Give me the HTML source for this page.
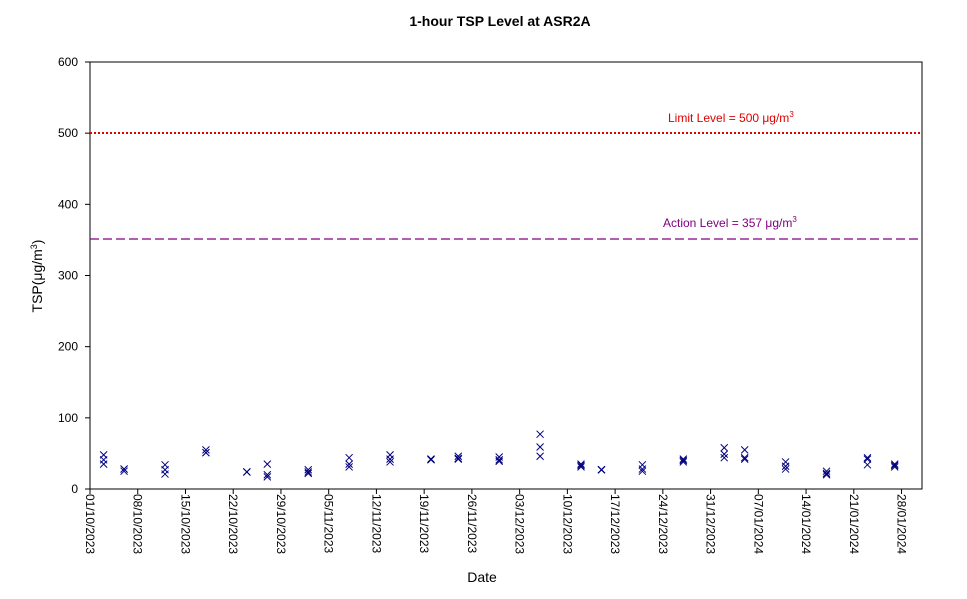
<!DOCTYPE html>
<html><head><meta charset="utf-8"><style>
body{margin:0;background:#fff;font-family:"Liberation Sans",Arial,sans-serif}
svg text{font-family:"Liberation Sans",Arial,sans-serif}
</style></head><body>
<svg id="chart" width="967" height="594" xmlns="http://www.w3.org/2000/svg">
<text x="500" y="26" text-anchor="middle" font-size="14" font-weight="bold">1-hour TSP Level at ASR2A</text>
<rect x="90" y="62" width="832" height="427" fill="none" stroke="#000" stroke-width="1"/>
<g id="yaxis"></g>
<g id="xaxis"></g>
<line x1="90" x2="922" y1="133" y2="133" stroke="#e00000" stroke-width="2" stroke-dasharray="2,2"/>
<text x="668" y="122" font-size="12" fill="#e00000">Limit Level  = 500 μg/m<tspan font-size="8" dy="-5">3</tspan></text>
<line x1="90" x2="922" y1="239" y2="239" stroke="#800080" stroke-width="1.2" stroke-dasharray="9,4"/>
<text x="663" y="227" font-size="12" fill="#800080">Action Level  = 357 μg/m<tspan font-size="8" dy="-5">3</tspan></text>
<g id="points"></g>
<text x="482" y="582" text-anchor="middle" font-size="14">Date</text>
<text transform="translate(42,276) rotate(-90)" text-anchor="middle" font-size="14">TSP(μg/m<tspan font-size="9" dy="-5">3</tspan><tspan dy="5">)</tspan></text>
</svg>
<script>
const dayOffsets=[2,5,11,17,23,26,32,38,44,50,54,60,66,72,75,81,87,93,96,102,108,114,118];
const values=[[48,41,35],[28,25,28],[34,27,21],[55,51,51],[24,24,24],[35,20,17],[27,22,24],[44,35,31],[48,42,38],[42,42,41],[46,42,43],[45,39,41],[77,59,46],[35,31,33],[27,27,27],[34,25,28],[42,38,40],[58,49,44],[55,44,42],[38,32,28],[25,20,22],[44,34,42],[35,31,33]];
const yTicks=[0,100,200,300,400,500,600];
const xTickLabels=["01/10/2023","08/10/2023","15/10/2023","22/10/2023","29/10/2023","05/11/2023","12/11/2023","19/11/2023","26/11/2023","03/12/2023","10/12/2023","17/12/2023","24/12/2023","31/12/2023","07/01/2024","14/01/2024","21/01/2024","28/01/2024"];
const NS="http://www.w3.org/2000/svg";
const xS=d=>90+d*(832/122);
const yS=v=>489-v*(427/600);
const ya=document.getElementById('yaxis'),xa=document.getElementById('xaxis'),pg=document.getElementById('points');
function mk(t,a,p){const e=document.createElementNS(NS,t);for(const k in a)e.setAttribute(k,a[k]);p.appendChild(e);return e;}
yTicks.forEach(v=>{
 const l=mk('line',{x1:85,x2:90,y1:yS(v),y2:yS(v),stroke:'#000'},ya);
 
 
 const t=mk('text',{x:78,y:yS(v)+4,'text-anchor':'end','font-size':12},ya);
 
 
 t.textContent=v;
});
xTickLabels.forEach((s,i)=>{
 const x=xS(i*7);
 const l=mk('line',{x1:x,x2:x,y1:489,y2:494,stroke:'#000'},xa);
 
 
 const t=mk('text',{transform:`translate(${x-4},494) rotate(90)`,'font-size':12},xa);
 
 
 t.textContent=s;
});
dayOffsets.forEach((d,i)=>{
 values[i].forEach(v=>{
  const x=xS(d),y=yS(v),r=3.5;
  const p=mk('path',{d:`M${x-r},${y-r}L${x+r},${y+r}M${x-r},${y+r}L${x+r},${y-r}`,stroke:'#000080','stroke-width':1,fill:'none'},pg);
  
  
 });
});
</script>
</body></html>
